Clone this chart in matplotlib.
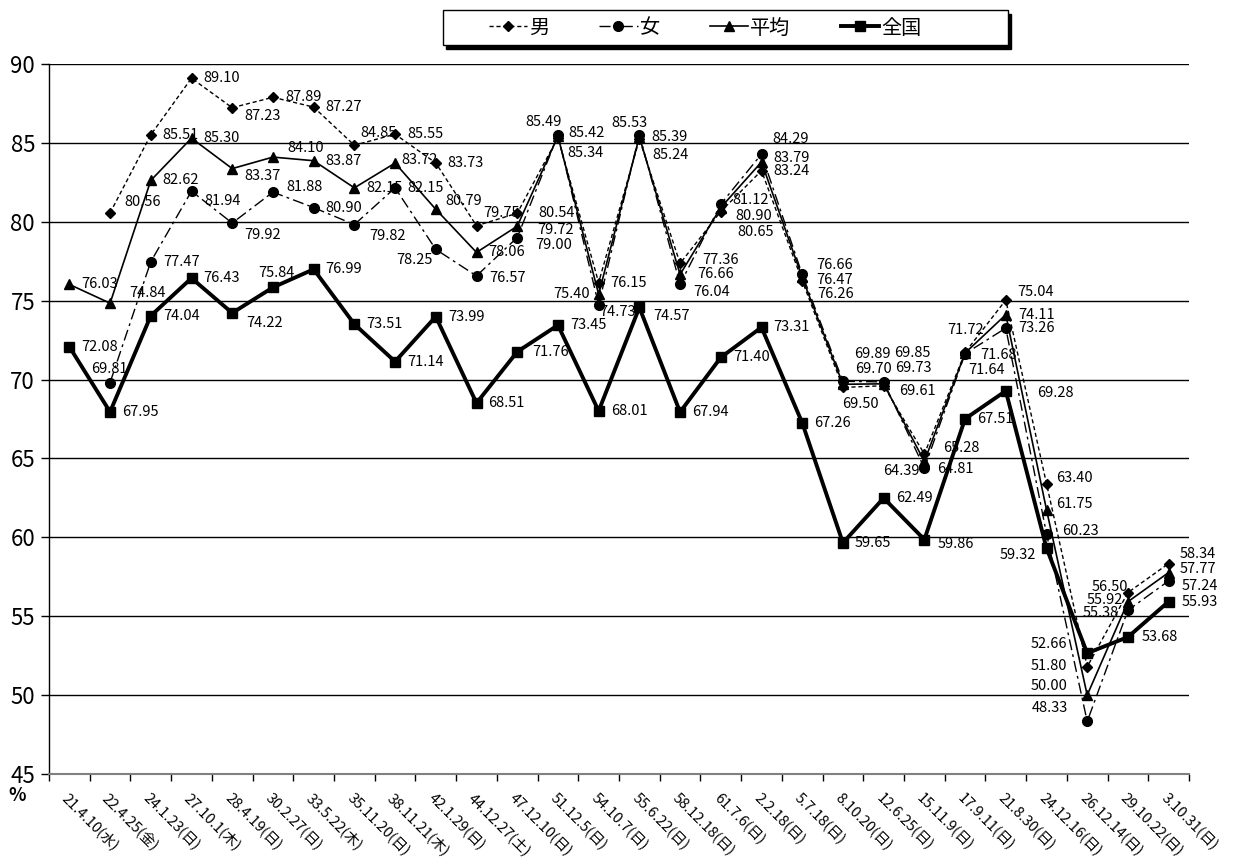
import numpy as np
import matplotlib

matplotlib.use("Agg")
import matplotlib.pyplot as plt  # noqa: E402
from matplotlib.patches import Rectangle  # noqa: E402

plt.rcParams['font.family'] = ['Noto Sans CJK JP', 'DejaVu Sans']

DATES = ["21.4.10(水)", "22.4.25(金)", "24.1.23(日)", "27.10.1(木)", "28.4.19(日)",
         "30.2.27(日)", "33.5.22(木)", "35.11.20(日)", "38.11.21(木)", "42.1.29(日)",
         "44.12.27(土)", "47.12.10(日)", "51.12.5(日)", "54.10.7(日)", "55.6.22(日)",
         "58.12.18(日)", "61.7.6(日)", "2.2.18(日)", "5.7.18(日)", "8.10.20(日)",
         "12.6.25(日)", "15.11.9(日)", "17.9.11(日)", "21.8.30(日)", "24.12.16(日)",
         "26.12.14(日)", "29.10.22(日)", "3.10.31(日)"]
nan = np.nan
MALE = [nan, 80.56, 85.51, 89.10, 87.23, 87.89, 87.27, 84.85, 85.55, 83.73,
        79.75, 80.54, 85.34, 76.15, 85.24, 77.36, 80.65, 83.24, 76.26, 69.50,
        69.61, 65.28, 71.72, 75.04, 63.40, 51.80, 56.50, 58.34]
FEMALE = [nan, 69.81, 77.47, 81.94, 79.92, 81.88, 80.90, 79.82, 82.15, 78.25,
          76.57, 79.00, 85.49, 74.73, 85.53, 76.04, 81.12, 84.29, 76.66, 69.89,
          69.85, 64.39, 71.64, 73.26, 60.23, 48.33, 55.38, 57.24]
AVERAGE = [76.03, 74.84, 82.62, 85.30, 83.37, 84.10, 83.87, 82.15, 83.72, 80.79,
           78.06, 79.72, 85.42, 75.40, 85.39, 76.66, 80.90, 83.79, 76.47, 69.70,
           69.73, 64.81, 71.68, 74.11, 61.75, 50.00, 55.92, 57.77]
NATIONAL = [72.08, 67.95, 74.04, 76.43, 74.22, 75.84, 76.99, 73.51, 71.14, 73.99,
            68.51, 71.76, 73.45, 68.01, 74.57, 67.94, 71.40, 73.31, 67.26, 59.65,
            62.49, 59.86, 67.51, 69.28, 59.32, 52.66, 53.68, 55.93]

# label offsets in pixels (dx, dy, ha); default is to the right of the point
DEFAULT = (12, 0, "left")
LABEL_POS = {
    "男": {1: (14, 11, "left"), 4: (12, -8, "left"), 7: (6, 12, "left"), 10: (7, 13, "left"),
          11: (21, 0, "left"), 12: (9, -15, "left"), 14: (13, -16, "left"), 15: (22, 3, "left"),
          16: (17, -20, "left"), 18: (15, -13, "left"), 19: (-1, -17, "left"), 20: (15, -5, "left"),
          21: (19, 6, "left"), 22: (0, 22, "center"), 23: (11, 8, "left"), 24: (10, 6, "left"),
          25: (-20, 1, "right"), 26: (0, 6, "right"), 27: (11, 10, "left")},
    "女": {1: (-1, 14, "center"), 3: (13, -10, "left"), 4: (12, -12, "left"), 5: (13, 5, "left"),
          7: (15, -11, "left"), 9: (-3, -11, "right"), 10: (13, -2, "left"), 11: (18, -7, "left"),
          12: (-14, 13, "center"), 13: (1, -7, "left"), 14: (-10, 12, "center"), 15: (13, -8, "left"),
          16: (12, 4, "left"), 17: (11, 15, "left"), 18: (14, 9, "left"), 19: (11, 27, "left"),
          20: (10, 29, "left"), 21: (-5, -3, "right"), 22: (3, -16, "left"), 24: (16, 3, "left"),
          25: (-19, 13, "right"), 26: (-9, -3, "right"), 27: (13, -5, "left")},
    "平均": {1: (19, 10, "left"), 4: (12, -7, "left"), 5: (14, 9, "left"), 8: (6, 3, "left"),
           9: (10, 8, "left"), 11: (20, -4, "left"), 12: (10, 3, "left"), 13: (-9, 0, "right"),
           15: (17, 0, "left"), 16: (15, -8, "left"), 17: (12, 4, "left"), 18: (14, -3, "left"),
           19: (12, 15, "left"), 20: (11, 16, "left"), 21: (13, -8, "left"), 22: (15, -2, "left"),
           24: (10, 6, "left"), 25: (-20, 9, "right"), 26: (-5, 2, "right"), 27: (11, 4, "left")},
    "全国": {4: (14, -10, "left"), 5: (4, 14, "center"), 11: (15, 0, "left"), 14: (14, -9, "left"),
           21: (13, -4, "left"), 23: (31, -2, "left"), 24: (-10, -7, "right"),
           25: (-20, 9, "right"), 26: (14, 0, "left"), 27: (13, 0, "left")},
}

STYLE = {
    "男": dict(color="black", lw=1.0, ls=(0, (3, 2)), marker="D", ms=5),
    "女": dict(color="black", lw=1.0, ls=(0, (8, 3, 2, 3)), marker="o", ms=7),
    "平均": dict(color="black", lw=1.2, ls="-", marker="^", ms=7),
    "全国": dict(color="black", lw=2.8, ls="-", marker="s", ms=7),
}

W, H = 1238, 858
fig = plt.figure(figsize=(W / 100, H / 100), dpi=100)
ax = fig.add_axes([49 / W, 1 - 774 / H, (1189 - 49) / W, (774 - 64) / H])

x = np.arange(len(DATES))
series = {"男": MALE, "女": FEMALE, "平均": AVERAGE, "全国": NATIONAL}
handles = []
for name, vals in series.items():
    (h,) = ax.plot(x, vals, label=name, zorder=3, **STYLE[name])
    handles.append(h)
    for i, v in enumerate(vals):
        if np.isnan(v):
            continue
        dx, dy, ha = LABEL_POS[name].get(i, DEFAULT)
        ax.annotate(f"{v:.2f}", (i, v), xytext=(dx, dy), textcoords="offset pixels",
                    ha=ha, va="center", fontsize=10.5, zorder=4)

ax.set_xlim(-0.5, len(DATES) - 0.5)
ax.set_ylim(45, 90)
ax.set_yticks(np.arange(45, 91, 5))
ax.tick_params(axis="y", labelsize=16, length=6, width=1, pad=4)
ax.yaxis.grid(True, color="black", lw=1)
ax.set_axisbelow(True)

ax.set_xticks(x)
ax.set_xticklabels(DATES, rotation=-45, ha="left", va="top", rotation_mode="anchor", fontsize=10.5)
ax.tick_params(axis="x", which="major", length=0, pad=12)
ax.set_xticks(np.arange(-0.5, len(DATES), 1), minor=True)
ax.tick_params(axis="x", which="minor", length=5, width=1)

for s in ("top", "right"):
    ax.spines[s].set_visible(False)
ax.spines["left"].set_linewidth(1)
ax.spines["bottom"].set_color("#808080")
ax.spines["bottom"].set_linewidth(1.5)

fig.text(8 / W, 1 - 786 / H, "%", fontsize=13, fontweight="bold", va="top", ha="left")

# legend box with drop shadow
fig.patches.append(Rectangle((446 / W, 1 - 49 / H), 565 / W, 35 / H, transform=fig.transFigure,
                             facecolor="black", edgecolor="black", zorder=1))
fig.patches.append(Rectangle((443 / W, 1 - 45 / H), 565 / W, 35 / H, transform=fig.transFigure,
                             facecolor="white", edgecolor="black", lw=1, zorder=2))
leg = fig.legend(handles=handles, loc="center", bbox_to_anchor=(705 / W, 1 - 28 / H), ncol=4,
                 frameon=False, fontsize=14.5, handlelength=1.9, handletextpad=0.1,
                 columnspacing=2.5, numpoints=1)
leg.set_zorder(5)

fig.savefig("out.png", dpi=100)
